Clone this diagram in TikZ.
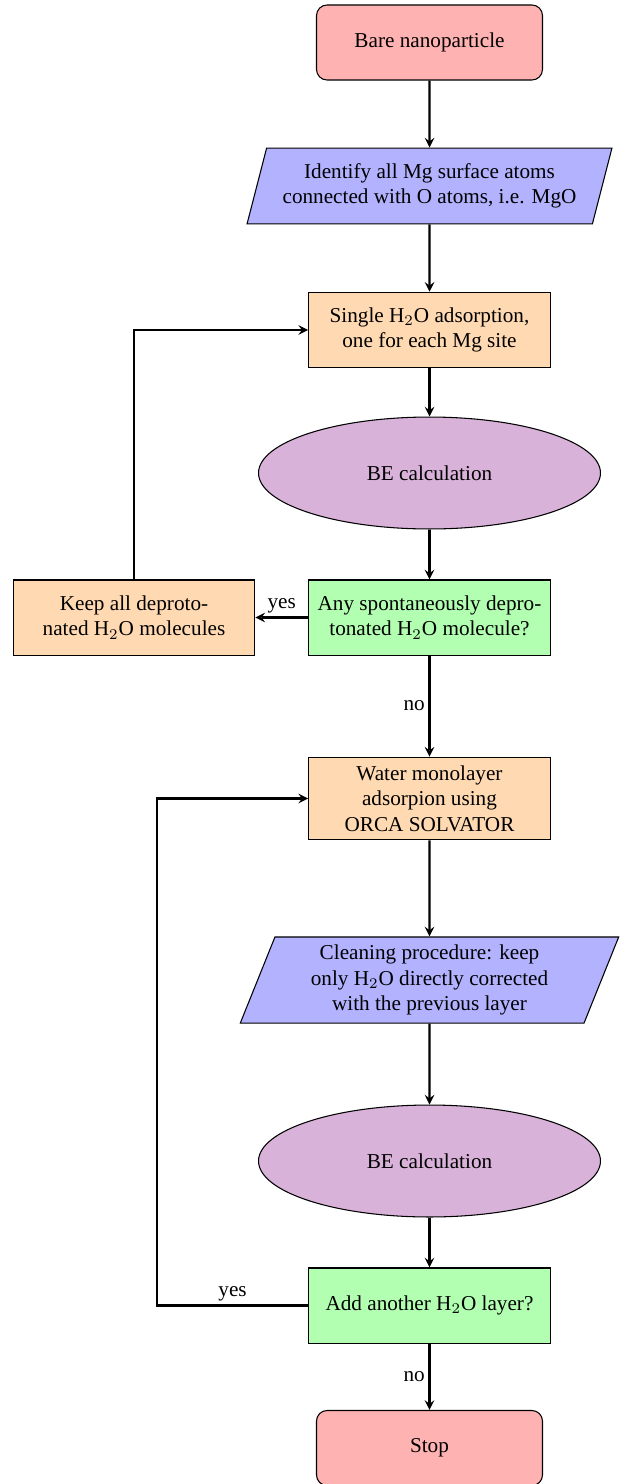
\documentclass[tikz,border=0pt]{standalone}
\usepackage{fontspec}
\setmainfont{Liberation Serif}
\usetikzlibrary{shapes.geometric,arrows}
\begin{document}
\begin{tikzpicture}[x=0.4717pt,y=-0.4717pt,
  every node/.style={line width=0.5pt},
  startstop/.style={rectangle, rounded corners=5pt, draw=black, fill=red!30, align=center, minimum width=106.6pt, minimum height=35.4pt, inner sep=2pt},
  io/.style={trapezium, trapezium left angle=70, trapezium right angle=110, trapezium stretches=true, draw=black, fill=blue!30, align=center, inner sep=1pt},
  process/.style={rectangle, draw=black, fill=orange!30, align=center, minimum width=114pt, minimum height=35.6pt, inner sep=2pt},
  decision/.style={rectangle, draw=black, fill=green!30, align=center, minimum width=114pt, minimum height=35.4pt, inner sep=2pt},
  calc/.style={ellipse, draw=black, fill=violet!30, align=center, minimum width=161.3pt, minimum height=52.8pt},
  arrow/.style={line width=1pt,->,>=stealth},
  lbl/.style={inner sep=2pt, draw=none}]
\useasboundingbox (0,0) rectangle (627,1484);
\node[startstop] (start) at (429.5,42.5) {Bare nanoparticle};
\node[io, minimum width=172.2pt, minimum height=35.8pt] (io1) at (429.5,186) {Identify all Mg surface atoms\\connected with O atoms, i.e. MgO};
\node[process] (single) at (429.5,330) {Single H$_2$O adsorption,\\one for each Mg site};
\node[calc] (be1) at (429.5,473) {BE calculation};
\node[decision] (any) at (429.5,617.5) {Any spontaneously depro-\\tonated H$_2$O molecule?};
\node[process, minimum height=35.4pt] (keep) at (134,617.5) {Keep all deproto-\\nated H$_2$O molecules};
\node[process, minimum height=39pt] (water) at (429.5,798.5) {Water monolayer\\adsorpion using\\ORCA SOLVATOR};
\node[io, minimum width=178.8pt, minimum height=40.6pt] (clean) at (429.5,980) {Cleaning procedure: keep\\only H$_2$O directly corrected\\with the previous layer};
\node[calc] (be2) at (429.5,1161) {BE calculation};
\node[decision] (add) at (429.5,1305.5) {Add another H$_2$O layer?};
\node[startstop] (stop) at (429.5,1448) {Stop};
\coordinate (lx) at (157,0);
\draw[arrow] (start) -- (io1);
\draw[arrow] (io1) -- (single);
\draw[arrow] (single) -- (be1);
\draw[arrow] (be1) -- (any);
\draw[arrow] (any) -- node[lbl, above] {yes} (keep);
\draw[arrow] (keep.north) |- (single.west);
\draw[arrow] (any) -- node[lbl, left] {no} (water);
\draw[arrow] (water) -- (clean);
\draw[arrow] (clean) -- (be2);
\draw[arrow] (be2) -- (add);
\draw[arrow] (add) -- node[lbl, left] {no} (stop);
\draw[arrow] (add.west) -- node[lbl, above] {yes} (add.west -| lx) |- (water.west);
\end{tikzpicture}
\end{document}
